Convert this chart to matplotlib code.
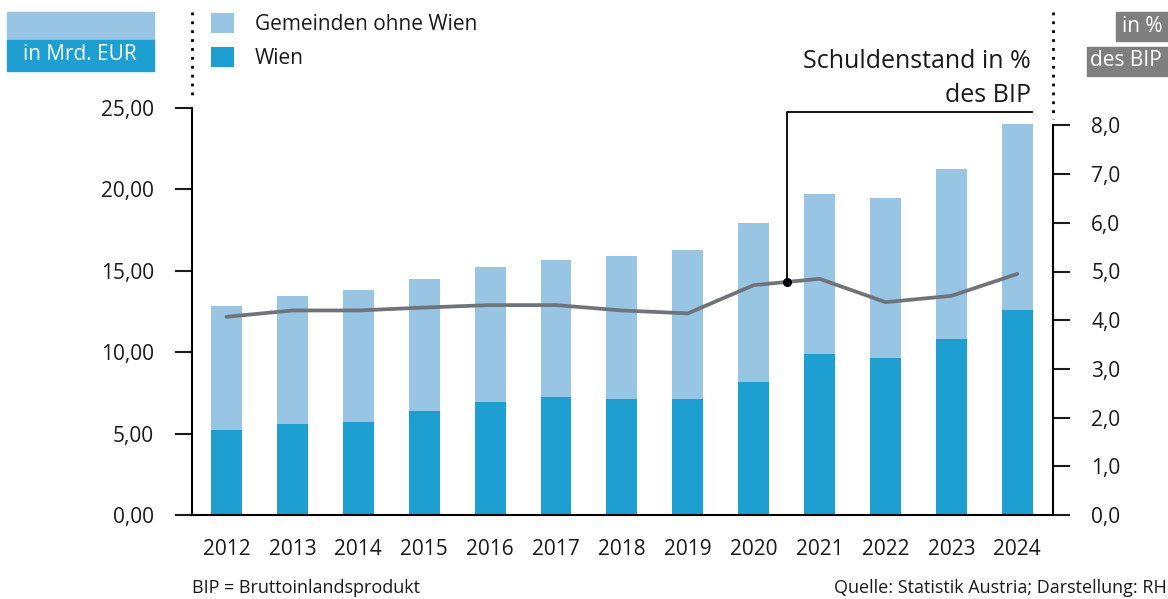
import matplotlib
matplotlib.use("Agg")
import matplotlib.pyplot as plt
from matplotlib.lines import Line2D
from matplotlib.patches import Rectangle
from matplotlib.ticker import FuncFormatter
import numpy as np

years = ["2012", "2013", "2014", "2015", "2016", "2017", "2018",
         "2019", "2020", "2021", "2022", "2023", "2024"]
wien = [5.22, 5.59, 5.71, 6.39, 6.94, 7.25, 7.13, 7.13, 8.17, 9.89, 9.64, 10.81, 12.59]
total = [12.84, 13.45, 13.82, 14.50, 15.23, 15.66, 15.91, 16.28, 17.94, 19.72, 19.47, 21.25, 24.00]
gemeinden_ohne_wien = [t - w for t, w in zip(total, wien)]
schulden_pct_bip = [4.07, 4.20, 4.20, 4.26, 4.31, 4.31, 4.20, 4.14, 4.72, 4.85, 4.37, 4.50, 4.95]

left_ticks = [0, 5, 10, 15, 20, 25]
right_ticks = [0, 1, 2, 3, 4, 5, 6, 7, 8]

C_LIGHT = "#98c5e4"
C_DARK = "#1e9fd2"
C_LINE = "#6e747a"
C_GRAY = "#7f7f7f"
C_TEXT = "#1a1a1a"
FONT = "Open Sans"
FS = 15
plt.rcParams['font.family'] = [FONT, 'DejaVu Sans']

W, H = 1168, 599
fig = plt.figure(figsize=(W / 100, H / 100), dpi=100)

def fx(x):
    return x / W

def fy(y):
    return 1 - y / H

ax_l, ax_r, ax_t, ax_b = 192, 1053, 108, 515
ax = fig.add_axes([fx(ax_l), fy(ax_b), fx(ax_r - ax_l), (ax_b - ax_t) / H])

x = np.arange(len(years))
bw = 0.47
ax.bar(x, wien, bw, color=C_DARK, label="Wien", zorder=2)
ax.bar(x, gemeinden_ohne_wien, bw, bottom=wien, color=C_LIGHT,
       label="Gemeinden ohne Wien", zorder=2)
ax.set_xlim(-0.524, 12.542)
ax.set_ylim(0, 25)
ax.set_yticks(left_ticks)
ax.yaxis.set_major_formatter(FuncFormatter(lambda v, p: f"{v:.2f}".replace(".", ",")))
ax.set_xticks(x)
ax.set_xticklabels(years)

for s in ["top", "right"]:
    ax.spines[s].set_visible(False)
ax.spines["left"].set_linewidth(1.5)
ax.spines["bottom"].set_linewidth(1.5)
ax.tick_params(axis="y", direction="out", length=12.5, width=1.5, pad=15,
               labelsize=FS, colors=C_TEXT)
ax.tick_params(axis="x", length=0, pad=17, labelsize=FS, colors=C_TEXT)

ax2 = ax.twinx()
pct_per_px = 1 / 48.7
ax2.set_ylim(0, (ax_b - ax_t) * pct_per_px)
ax2.plot(x, schulden_pct_bip, color=C_LINE, lw=2.7, solid_capstyle="round", zorder=3)
ax2.set_yticks(right_ticks)
ax2.yaxis.set_major_formatter(FuncFormatter(lambda v, p: f"{v:.1f}".replace(".", ",")))
for s in ["top", "left", "bottom"]:
    ax2.spines[s].set_visible(False)
ax2.spines["right"].set_bounds(0, 8)
ax2.spines["right"].set_linewidth(1.5)
ax2.tick_params(axis="y", direction="out", length=12.5, width=1.5, pad=15,
                labelsize=FS, colors=C_TEXT)

# annotation for line
ax_x = 8.5
ax_y = (schulden_pct_bip[8] + schulden_pct_bip[9]) / 2
ax2.plot([ax_x], [ax_y], "o", color="black", ms=5.5, zorder=5)
top_y = (ax_b - 112) * pct_per_px
ax2.plot([ax_x, ax_x, 12.22], [ax_y, top_y, top_y], color="black", lw=1.3, zorder=4,
         clip_on=False)
fig.text(fx(1031), fy(62), "Schuldenstand in %", ha="right", va="center",
         fontsize=18, color=C_TEXT)
fig.text(fx(1031), fy(96), "des BIP", ha="right", va="center",
         fontsize=18, color=C_TEXT)

# dotted axis extensions
fig.add_artist(Line2D([fx(192), fx(192)], [fy(12), fy(98)], color="black", lw=2,
                      linestyle=(0, (1, 2.2))))
fig.add_artist(Line2D([fx(1053), fx(1053)], [fy(12), fy(119)], color="black", lw=2,
                      linestyle=(0, (1, 2.2))))

# unit box left
fig.add_artist(Rectangle((fx(7), fy(40)), fx(147), 28 / H, color=C_LIGHT,
                         transform=fig.transFigure))
fig.add_artist(Rectangle((fx(7), fy(71)), fx(147), 31 / H, color=C_DARK,
                         transform=fig.transFigure))
fig.text(fx(80), fy(55), "in Mrd. EUR", ha="center", va="center", fontsize=FS,
         color="white")

# unit boxes right
fig.add_artist(Rectangle((fx(1116), fy(41)), fx(52), 29 / H, color=C_GRAY,
                         transform=fig.transFigure))
fig.text(fx(1142), fy(26), "in %", ha="center", va="center", fontsize=FS, color="white")
fig.add_artist(Rectangle((fx(1087), fy(76)), fx(81), 29 / H, color=C_GRAY,
                         transform=fig.transFigure))
fig.text(fx(1126), fy(61), "des BIP", ha="center", va="center", fontsize=FS,
         color="white")

# legend
handles, labels = ax.get_legend_handles_labels()
leg = fig.legend(handles[::-1], labels[::-1], loc="upper left",
                 bbox_to_anchor=(fx(203), fy(5)), frameon=False, fontsize=FS,
                 handlelength=1.1, handleheight=1.1, handletextpad=1.0,
                 labelspacing=0.54, borderaxespad=0)
for t in leg.get_texts():
    t.set_color(C_TEXT)

# footnotes
fig.text(fx(192), fy(588), "BIP = Bruttoinlandsprodukt", ha="left", va="center",
         fontsize=13, color=C_TEXT)
fig.text(fx(1167), fy(588), "Quelle: Statistik Austria; Darstellung: RH", ha="right",
         va="center", fontsize=13, color=C_TEXT)

fig.savefig("out.png", dpi=100)
